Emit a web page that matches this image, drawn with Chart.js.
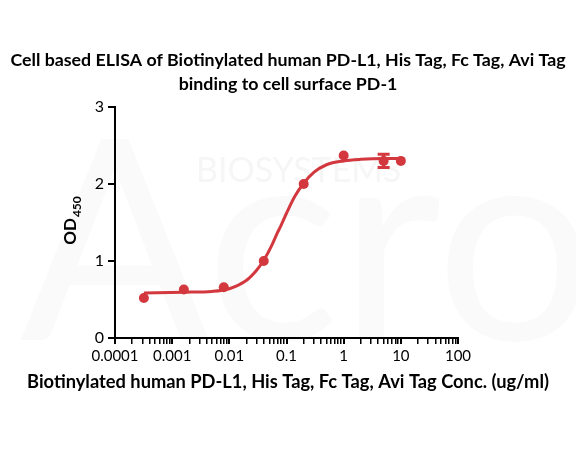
<!DOCTYPE html>
<html>
<head>
<meta charset="utf-8">
<script src="https://cdn.jsdelivr.net/npm/chart.js@4/dist/chart.umd.min.js"></script>
<style>
html,body{margin:0;padding:0;background:#fff;}
#wrap{width:576px;height:450px;position:relative;}
</style>
</head>
<body>
<div id="wrap"><canvas id="c" width="576" height="450"></canvas></div>
<script>
// ---- data ----
const titleLines = ["Cell based ELISA of Biotinylated human PD-L1, His Tag, Fc Tag, Avi Tag", "binding to cell surface PD-1"];
const xTitle = "Biotinylated human PD-L1, His Tag, Fc Tag, Avi Tag Conc. (ug/ml)";
const yTitleMain = "OD";
const yTitleSub = "450";
const concentrations = [0.00032, 0.0016, 0.008, 0.04, 0.2, 1, 5, 10];
const odValues = [0.52, 0.63, 0.66, 1.00, 2.00, 2.37, 2.30, 2.30];
const odErrors = [0, 0, 0, 0, 0, 0, 0.085, 0];
const curveX = [0.00032, 0.0016, 0.005, 0.01, 0.02, 0.03, 0.04, 0.055, 0.0676, 0.08, 0.1, 0.14, 0.2, 0.3, 0.5, 1, 2, 5, 10];
const curveY = [0.586, 0.595, 0.605, 0.64, 0.75, 0.88, 1.01, 1.20, 1.35, 1.46, 1.62, 1.84, 2.01, 2.15, 2.25, 2.30, 2.32, 2.33, 2.33];
const xMajorTicks = [0.0001, 0.001, 0.01, 0.1, 1, 10, 100];
const yTicks = [0, 1, 2, 3];

const RED = '#d2383e';
const FONT = 'Lato, "Liberation Sans", sans-serif';

const pts = concentrations.map((x, i) => ({x, y: odValues[i]}));
const curve = curveX.map((x, i) => ({x, y: curveY[i]}));

const textPlugin = {
  id: 'texts',
  beforeDraw(chart) {
    const ctx = chart.ctx;
    ctx.save();
    // very faint watermark
    ctx.fillStyle = '#fafafa';
    ctx.textAlign = 'left';
    ctx.textBaseline = 'alphabetic';
    ctx.font = '280px ' + FONT;
    ctx.fillText('Acro', 20, 340);
    ctx.fillStyle = '#f6f6f6';
    ctx.font = '34px ' + FONT;
    ctx.fillText('BIOSYSTEMS', 196, 182);
    ctx.restore();
  },
  afterDraw(chart) {
    const ctx = chart.ctx;
    ctx.save();
    ctx.fillStyle = '#000';
    ctx.textAlign = 'center';
    ctx.textBaseline = 'middle';
    ctx.font = 'bold 17.8px ' + FONT;
    ctx.fillText(titleLines[0], 288, 60);
    ctx.fillText(titleLines[1], 288, 84);
    ctx.font = 'bold 18.3px ' + FONT;
    ctx.fillText(xTitle, 288, 382);
    // y axis title with subscript
    ctx.translate(71, 221);
    ctx.rotate(-Math.PI / 2);
    ctx.font = 'bold 17px ' + FONT;
    const w1 = ctx.measureText(yTitleMain).width;
    ctx.font = 'bold 12px ' + FONT;
    const w2 = ctx.measureText(yTitleSub).width;
    const start = -(w1 + w2) / 2;
    ctx.textAlign = 'left';
    ctx.font = 'bold 17px ' + FONT;
    ctx.fillText(yTitleMain, start, 0);
    ctx.font = 'bold 12px ' + FONT;
    ctx.fillText(yTitleSub, start + w1 + 1, 6);
    ctx.restore();
  }
};

const errorBarPlugin = {
  id: 'errbars',
  afterDatasetsDraw(chart) {
    const ctx = chart.ctx;
    const xs = chart.scales.x, ys = chart.scales.y;
    ctx.save();
    ctx.strokeStyle = RED;
    ctx.lineWidth = 3;
    concentrations.forEach((c, i) => {
      const e = odErrors[i];
      if (!e) return;
      const px = xs.getPixelForValue(c);
      const yt = ys.getPixelForValue(odValues[i] + e);
      const yb = ys.getPixelForValue(odValues[i] - e);
      ctx.beginPath();
      ctx.moveTo(px, yt); ctx.lineTo(px, yb);
      ctx.moveTo(px - 6, yt); ctx.lineTo(px + 6, yt);
      ctx.moveTo(px - 6, yb); ctx.lineTo(px + 6, yb);
      ctx.stroke();
    });
    ctx.restore();
  }
};

const isMajor = v => xMajorTicks.some(m => Math.abs(v / m - 1) < 1e-6);

new Chart(document.getElementById('c'), {
  type: 'scatter',
  data: {
    datasets: [
      {
        data: curve,
        showLine: true,
        borderColor: RED,
        borderWidth: 3,
        pointRadius: 0,
        cubicInterpolationMode: 'monotone',
        fill: false
      },
      {
        data: pts,
        showLine: false,
        backgroundColor: RED,
        borderColor: RED,
        pointRadius: 5,
        pointBorderWidth: 0
      }
    ]
  },
  options: {
    responsive: false,
    animation: false,
    devicePixelRatio: 1,
    layout: { padding: { left: 0, right: 118, top: 107, bottom: 58 } },
    plugins: { legend: { display: false }, tooltip: { enabled: false }, title: { display: false } },
    scales: {
      x: {
        type: 'logarithmic',
        min: 0.0001,
        max: 100,
        afterBuildTicks(scale) {
          const t = [];
          for (let i = 0; i < xMajorTicks.length; i++) {
            const m = xMajorTicks[i];
            t.push({ value: m, major: true });
            if (i < xMajorTicks.length - 1) {
              for (let k = 2; k <= 9; k++) t.push({ value: m * k, major: false });
            }
          }
          scale.ticks = t;
        },
        afterFit(scale) { scale.height = 54; },
        ticks: {
          autoSkip: false,
          maxRotation: 0,
          minRotation: 0,
          color: '#000',
          padding: 3,
          font: { family: FONT, size: 15 },
          callback: (v) => isMajor(v) ? String(+v.toPrecision(6)) : ''
        },
        grid: {
          drawOnChartArea: false,
          drawTicks: true,
          tickLength: 6,
          color: '#000',
          lineWidth: (c) => (c.tick && c.tick.major) ? 2 : 1.5
        },
        border: { display: true, color: '#000', width: 2 },
        title: { display: false }
      },
      y: {
        min: 0,
        max: 3,
        afterBuildTicks(scale) { scale.ticks = yTicks.map(v => ({ value: v })); },
        afterFit(scale) { scale.width = 115; },
        ticks: {
          color: '#000',
          padding: 4,
          font: { family: FONT, size: 16 }
        },
        grid: {
          drawOnChartArea: false,
          drawTicks: true,
          tickLength: 7,
          color: '#000',
          lineWidth: 2
        },
        border: { display: true, color: '#000', width: 2 }
      }
    }
  },
  plugins: [textPlugin, errorBarPlugin]
});
</script>
</body>
</html>
